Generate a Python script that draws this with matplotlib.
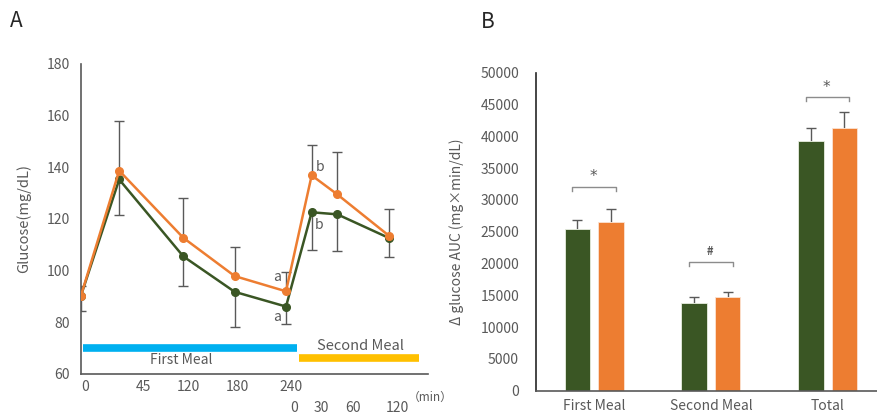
import numpy as np
import matplotlib
matplotlib.use("Agg")
import matplotlib.pyplot as plt
from matplotlib.transforms import blended_transform_factory

plt.rcParams["font.family"] = ["Noto Sans CJK JP", "DejaVu Sans"]

GREEN = "#3a5624"
ORANGE = "#ed7d31"
GRAY = "#595959"

# ---- panel A: glucose time course ----
time_min = [0, 45, 120, 180, 240, 270, 300, 360]
glu_green = [90, 135.3, 105.5, 91.8, 86.1, 122.6, 121.8, 112.7]
glu_orange = [90, 138.7, 112.7, 97.9, 92.0, 136.9, 129.5, 113.6]
err_green = [5.5, 13.6, 11.5, 13.5, 6.8, 14.5, 14.0, 7.4]   # drawn downward
err_orange = [4.0, 19.3, 15.3, 11.2, 7.4, 11.8, 16.5, 10.4]  # drawn upward

tick_row1 = ["0", "45", "120", "180", "240"]
tick_row1_pos = [5, 73, 126, 183.5, 246]
tick_row2 = ["0", "30", "60", "120"]
tick_row2_pos = [249.5, 281, 318, 370]

# ---- panel B: AUC ----
auc_cats = ["First Meal", "Second Meal", "Total"]
auc_green = [25400, 13800, 39250]
auc_orange = [26600, 14700, 41350]
auc_err_green = [1500, 1000, 2100]
auc_err_orange = [1950, 880, 2420]
sig_marks = ["*", "#", "*"]
sig_heights = [32100, 20300, 46200]


def one_sided_err(ax, x, y, err, up=True, cap=7):
    """Error bar on one side only, cap at the far end (like Excel)."""
    x = np.asarray(x, float)
    y = np.asarray(y, float)
    err = np.asarray(err, float)
    end = y + err if up else y - err
    ax.vlines(x, y, end, color=GRAY, lw=1, zorder=1)
    ax.plot(x, end, ls="none", marker="_", ms=cap, mew=1, color=GRAY, zorder=1)


fig = plt.figure(figsize=(8.78, 4.18), dpi=100)

# ================= A =================
ax = fig.add_axes([0.0919, 0.1053, 0.3956, 0.7416])
one_sided_err(ax, time_min, glu_orange, err_orange, up=True)
one_sided_err(ax, time_min, glu_green, err_green, up=False)
ax.plot(time_min, glu_green, color=GREEN, lw=1.8, marker="o", ms=5.5, zorder=3)
ax.plot(time_min, glu_orange, color=ORANGE, lw=1.8, marker="o", ms=5.5, zorder=4)

ax.set_xlim(0, 406)
ax.set_ylim(60, 180)
ax.set_yticks(np.arange(60, 181, 20))
ax.set_xticks([])
ax.tick_params(axis="y", length=0, labelsize=10, labelcolor=GRAY, pad=8)
for s in ["top", "right"]:
    ax.spines[s].set_visible(False)
for s in ["left", "bottom"]:
    ax.spines[s].set_color(GRAY)
    ax.spines[s].set_linewidth(1.2)
ax.set_ylabel("Glucose(mg/dL)", fontsize=10.5, color=GRAY, labelpad=11)

trans = blended_transform_factory(ax.transData, ax.transAxes)
for lab, p in zip(tick_row1, tick_row1_pos):
    ax.text(p, -0.043, lab, transform=trans, ha="center", va="center",
            fontsize=10, color=GRAY)
for lab, p in zip(tick_row2, tick_row2_pos):
    ax.text(p, -0.11, lab, transform=trans, ha="center", va="center",
            fontsize=10, color=GRAY)
ax.text(408, -0.074, "（min）", transform=trans, ha="center", va="center",
        fontsize=8.5, color=GRAY, clip_on=False)

# meal bars
ax.plot([3, 253], [70, 70], color="#00b0f0", lw=5.5, solid_capstyle="butt")
ax.plot([255.5, 395], [66.3, 66.3], color="#ffc000", lw=5.5, solid_capstyle="butt")
ax.text(118, 65.6, "First Meal", ha="center", va="center", fontsize=10, color=GRAY)
ax.text(327, 70.9, "Second Meal", ha="center", va="center", fontsize=10.5, color=GRAY)

# significance letters
ax.text(229, 97.4, "a", ha="center", va="center", fontsize=10, color=GRAY)
ax.text(229, 82.2, "a", ha="center", va="center", fontsize=10, color=GRAY)
ax.text(280, 140.2, "b", ha="center", va="center", fontsize=10, color=GRAY)
ax.text(279, 117.5, "b", ha="center", va="center", fontsize=10, color=GRAY)

fig.text(0.019, 0.95, "A", fontsize=15, color="#262626", ha="center", va="center")

# ================= B =================
bx = fig.add_axes([0.6101, 0.0653, 0.3899, 0.7608])
x = np.arange(len(auc_cats))
w = 0.22
off = 0.143
bx.bar(x - off, auc_green, w, color=GREEN, edgecolor="#e8eee0", lw=0.6, zorder=2)
bx.bar(x + off, auc_orange, w, color=ORANGE, edgecolor="#fbe3d2", lw=0.6, zorder=2)
one_sided_err(bx, x - off, auc_green, auc_err_green, up=True)
one_sided_err(bx, x + off, auc_orange, auc_err_orange, up=True)

for xi, h, m in zip(x, sig_heights, sig_marks):
    bx.plot([xi - 0.185, xi - 0.185, xi + 0.185, xi + 0.185],
            [h - 650, h, h, h - 650], color="#8c8c8c", lw=1)
    if m == "*":
        bx.text(xi - 0.01, h + 1500, m, ha="center", va="center",
                fontsize=11, color=GRAY, family="DejaVu Sans")
    else:
        bx.text(xi - 0.01, h + 1600, m, ha="center", va="center",
                fontsize=8, color=GRAY, fontweight="bold")

bx.set_xlim(-0.5, 2.43)
bx.set_ylim(0, 50000)
bx.set_yticks(np.arange(0, 50001, 5000))
bx.set_xticks(x)
bx.set_xticklabels(auc_cats)
bx.tick_params(axis="both", length=0, labelsize=10, labelcolor=GRAY)
bx.tick_params(axis="y", pad=12)
bx.tick_params(axis="x", pad=6)
for s in ["top", "right"]:
    bx.spines[s].set_visible(False)
bx.spines["left"].set_color("#262626")
bx.spines["bottom"].set_color(GRAY)
bx.spines["left"].set_linewidth(1.2)
bx.spines["bottom"].set_linewidth(1.2)
bx.set_ylabel("Δ glucose AUC (mg×min/dL)", fontsize=10, color=GRAY, labelpad=12)

fig.text(0.556, 0.948, "B", fontsize=15, color="#262626", ha="center", va="center")

fig.savefig("out.png", dpi=100)
